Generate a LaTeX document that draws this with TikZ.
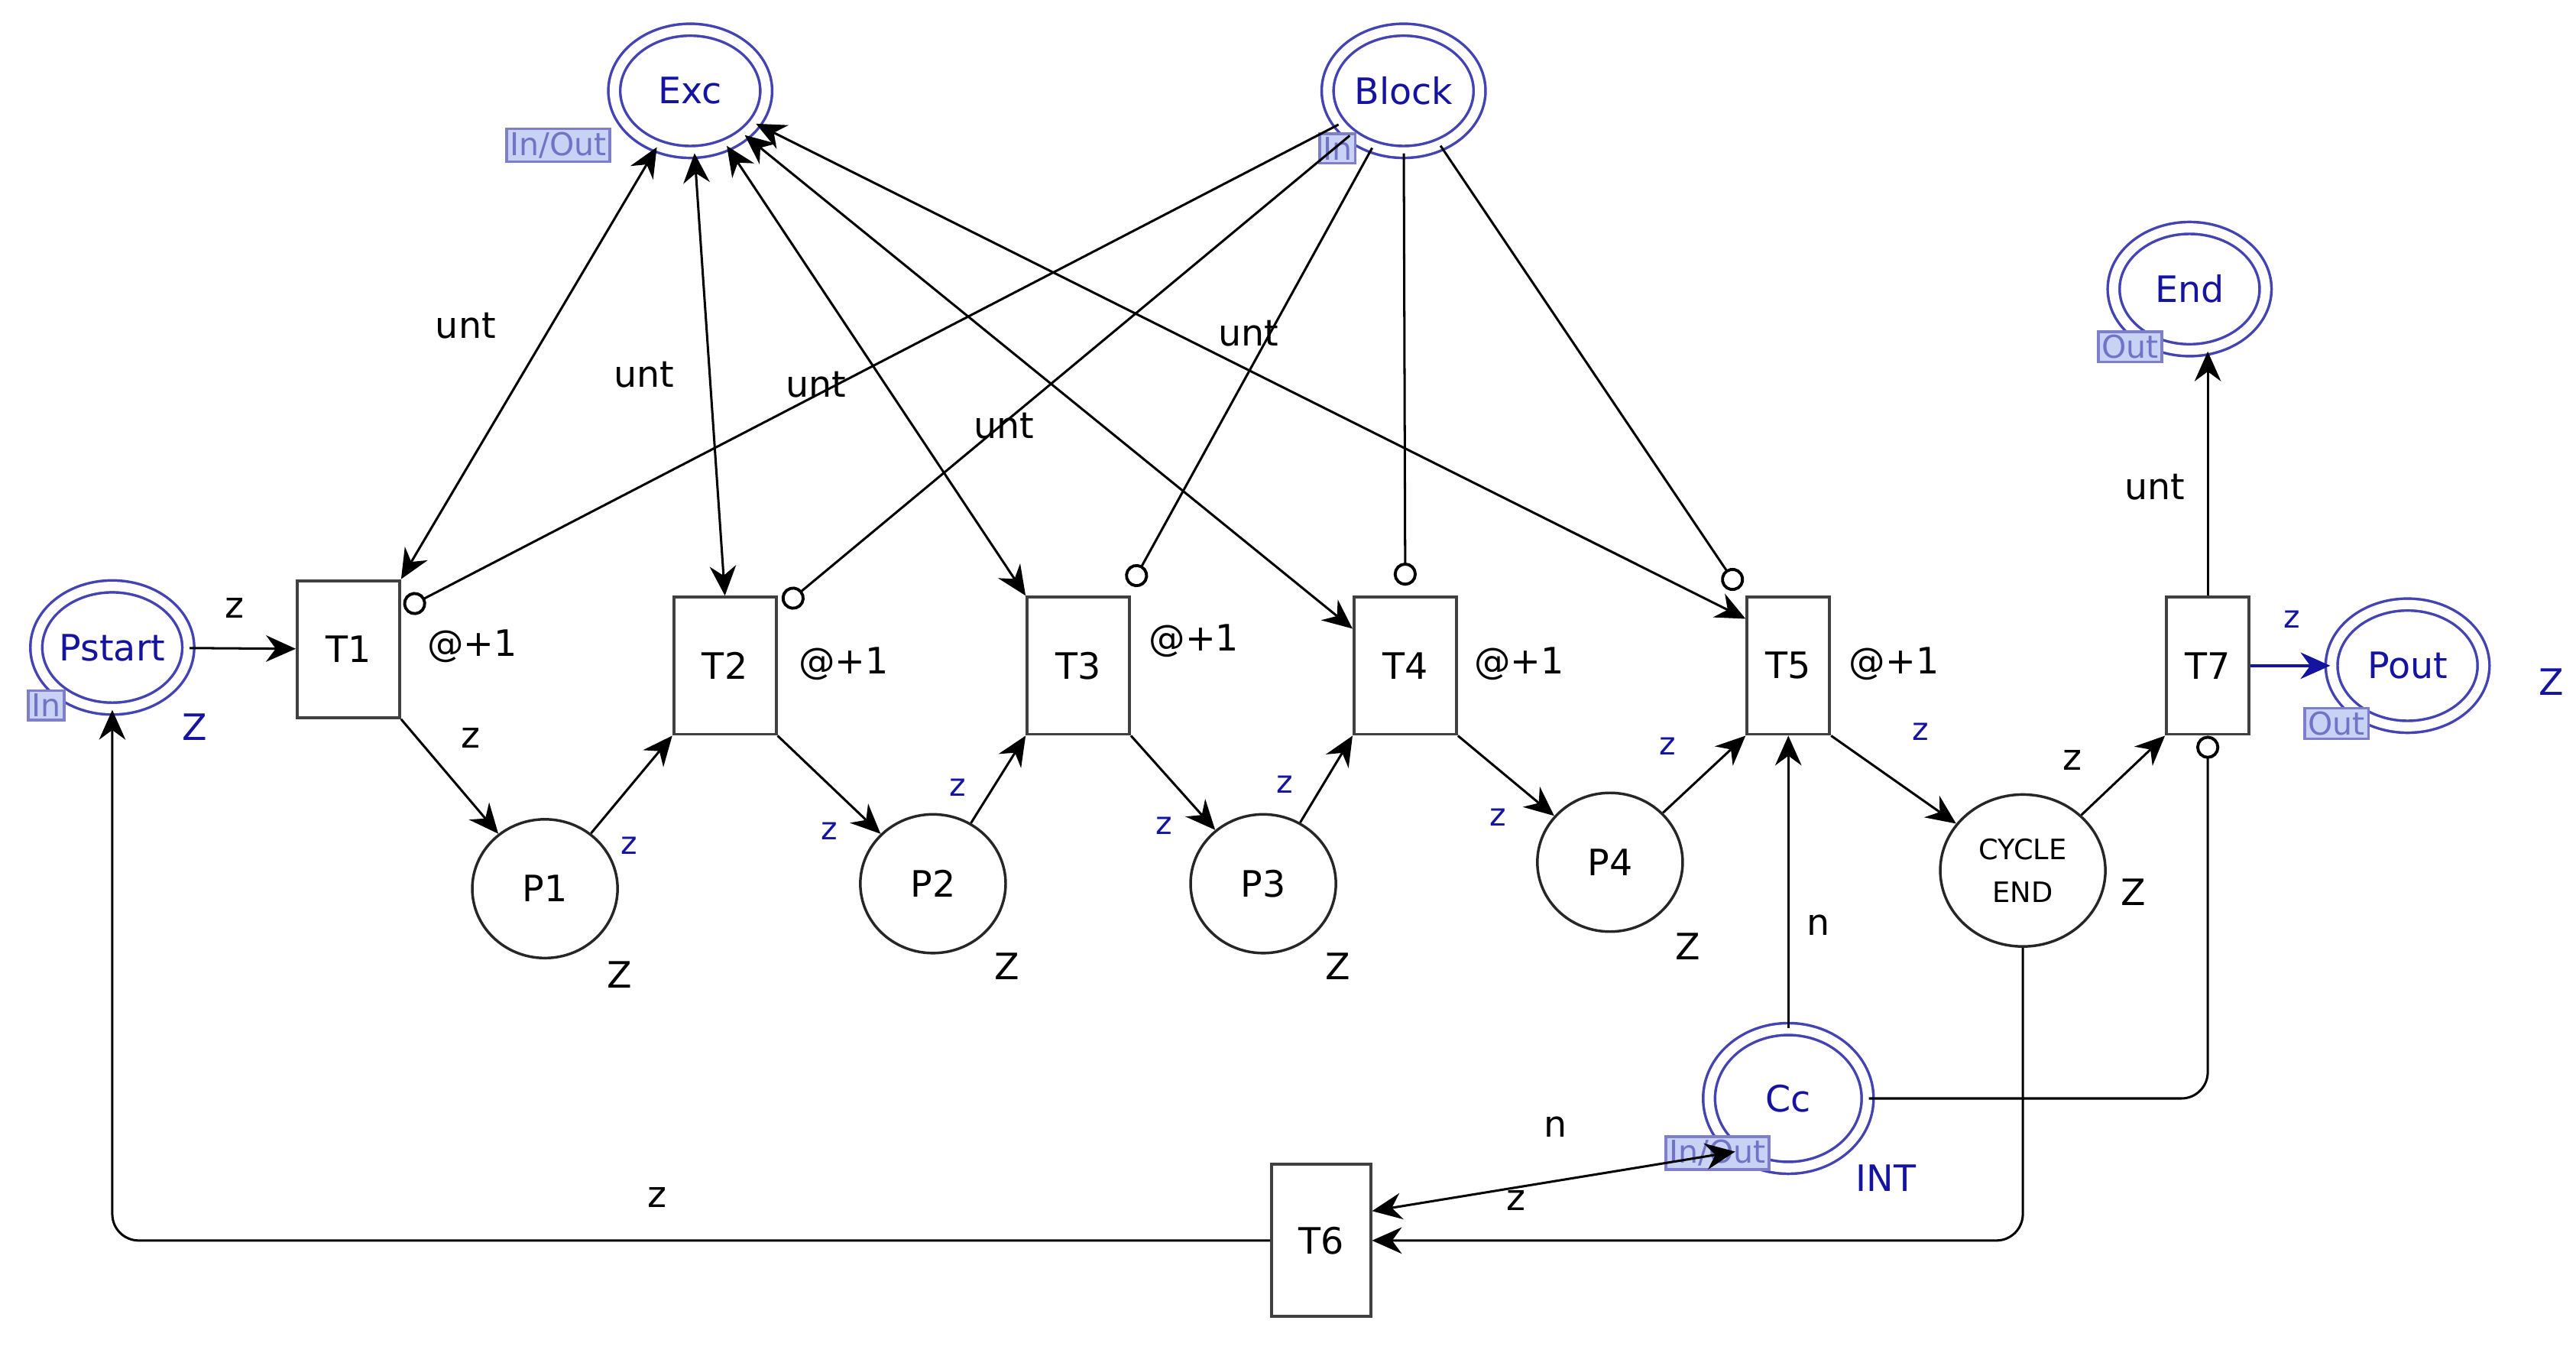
\documentclass[tikz,border=0pt]{standalone}
\usepackage{fontspec}
\setmainfont{DejaVu Sans}
\usetikzlibrary{arrows.meta,shapes.geometric,positioning}
\definecolor{cpnblue}{RGB}{20,20,160}
\definecolor{tagblue}{RGB}{200,210,245}
\begin{document}
\begin{tikzpicture}[x=0.5pt,y=-0.5pt,
  trans/.style={draw=black!75,line width=0.9pt,fill=white,minimum width=31pt,minimum height=41.5pt,inner sep=0pt,font=\fontsize{11}{13}\selectfont},
  place/.style={ellipse,draw=black!85,line width=0.8pt,fill=white,minimum width=44pt,minimum height=42pt,inner sep=0pt,font=\fontsize{11}{13}\selectfont},
  port/.style={ellipse,draw=cpnblue!80,line width=0.8pt,double=white,double distance=2.8pt,fill=white,minimum width=46pt,minimum height=37pt,inner sep=0pt,text=cpnblue,font=\fontsize{11}{13}\selectfont},
  tag/.style={draw=cpnblue!55,fill=tagblue,text=cpnblue!60,line width=0.8pt,inner sep=1pt,font=\fontsize{9.5}{10}\selectfont},
  arc/.style={line width=0.7pt,-{Stealth[length=9pt,width=8pt]}},
  both/.style={line width=0.7pt,{Stealth[length=9pt,width=8pt]}-{Stealth[length=9pt,width=8pt]}},
  inh/.style={line width=0.7pt,-{Circle[open,length=7pt,line width=0.9pt]}},
  lbl/.style={font=\fontsize{11}{13}\selectfont},
  blbl/.style={text=cpnblue,font=\fontsize{9.5}{11}\selectfont}]
\useasboundingbox (0,0) rectangle (1560,819);

% places
\node[port] (Exc) at (418,55) {Exc};
\node[port] (Block) at (850,55) {Block};
\node[port] (End) at (1326,175) {End};
\node[port] (Pstart) at (68,392) {Pstart};
\node[port] (Pout) at (1458,403) {Pout};
\node[port,minimum width=48pt,minimum height=42pt] (Cc) at (1083,665) {Cc};
\node[place] (P1) at (330,538) {P1};
\node[place] (P2) at (565,535) {P2};
\node[place] (P3) at (765,535) {P3};
\node[place] (P4) at (975,522) {P4};
\node[place,minimum width=50pt,minimum height=46pt,align=center,font=\fontsize{8.5}{13}\selectfont] (Cyc) at (1225,527) {CYCLE\\END};

% port tags
\node[tag] at (338,88) {In/Out};
\node[tag] at (810,90) {In};
\node[tag] at (1290,210) {Out};
\node[tag] at (28,427) {In};
\node[tag] at (1415,438) {Out};
\node[tag] at (1040,698) {In/Out};

% transitions
\node[trans] (T1) at (211,393) {T1};
\node[trans] (T2) at (439,403) {T2};
\node[trans] (T3) at (653,403) {T3};
\node[trans] (T4) at (851,403) {T4};
\node[trans,minimum width=25pt] (T5) at (1083,403) {T5};
\node[trans,minimum width=25pt] (T7) at (1337,403) {T7};
\node[trans,minimum width=30pt,minimum height=46pt] (T6) at (800,751) {T6};

% Exc arcs
\draw[both] (Exc) -- (T1.north east);
\draw[both] (Exc) -- (T2.north);
\draw[both] (Exc) -- (T3.north west);
\draw[both] (Exc) -- ([yshift=-10pt]T4.north west);
\draw[both] (Exc) -- ([yshift=-7pt]T5.north west);

% Block inhibitors
\draw[inh] (Block) -- ([xshift=1pt,yshift=-9pt]T1.north east);
\draw[inh] (Block) -- ([xshift=2pt,yshift=-3pt]T2.north east);
\draw[inh] (Block) -- ([yshift=3pt]T3.north east);
\draw[inh] (Block) -- ([yshift=3pt]T4.north);
\draw[inh] (Block) -- ([xshift=-2pt,yshift=2pt]T5.north west);

% main flow
\draw[arc] (Pstart) -- (T1);
\draw[arc] (T1.south east) -- (P1);
\draw[arc] (P1) -- (T2.south west);
\draw[arc] (T2.south east) -- (P2);
\draw[arc] (P2) -- (T3.south west);
\draw[arc] (T3.south east) -- (P3);
\draw[arc] (P3) -- (T4.south west);
\draw[arc] (T4.south east) -- (P4);
\draw[arc] (P4) -- (T5.south west);
\draw[arc] (T5.south east) -- (Cyc);
\draw[arc] (Cyc) -- (T7.south west);
\draw[arc] (T7.north) -- (T7.north |- End.south);
\draw[arc,draw=cpnblue,line width=1pt] (T7) -- (Pout);
\draw[arc] (Cc) -- (T5);
\draw[inh,rounded corners=8pt] (Cc.east) -| (T7.south);
\draw[arc,rounded corners=8pt] (Cyc.south) |- (T6.east);
\draw[both] (T6.30) -- (Cc.225);
\draw[arc,rounded corners=8pt] (T6.west) -| (Pstart.south);

% inscriptions
\node[lbl] at (142,368) {z};
\node[lbl] at (282,197) {unt};
\node[lbl] at (390,227) {unt};
\node[lbl] at (494,233) {unt};
\node[lbl] at (608,258) {unt};
\node[lbl] at (756,202) {unt};
\node[lbl] at (1305,295) {unt};
\node[lbl] at (286,391) {@+1};
\node[lbl] at (511,402) {@+1};
\node[lbl] at (723,388) {@+1};
\node[lbl] at (920,402) {@+1};
\node[lbl] at (1147,402) {@+1};
\node[lbl] at (285,447) {z};
\node[lbl] at (1255,460) {z};
\node[lbl] at (1101,560) {n};
\node[lbl] at (942,682) {n};
\node[lbl] at (918,727) {z};
\node[lbl] at (398,725) {z};
\node[lbl] at (375,590) {Z};
\node[lbl] at (610,585) {Z};
\node[lbl] at (810,585) {Z};
\node[lbl] at (1022,573) {Z};
\node[lbl] at (1292,540) {Z};
\node[blbl] at (381,512) {z};
\node[blbl] at (502,503) {z};
\node[blbl] at (580,477) {z};
\node[blbl] at (705,500) {z};
\node[blbl] at (778,475) {z};
\node[blbl] at (907,495) {z};
\node[blbl] at (1010,452) {z};
\node[blbl] at (1163,443) {z};
\node[blbl] at (1388,375) {z};
\node[lbl,text=cpnblue] at (118,440) {Z};
\node[lbl,text=cpnblue] at (1545,413) {Z};
\node[lbl,text=cpnblue] at (1142,713) {INT};
\end{tikzpicture}
\end{document}
